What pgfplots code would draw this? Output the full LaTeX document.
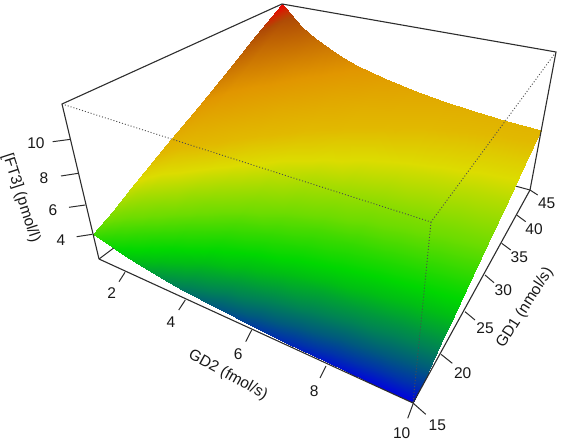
\documentclass[border=0pt]{standalone}
\usepackage{pgfplots}
\usepackage{pgfplotstable}
\usepackage{fontspec}
\setmainfont{Liberation Sans}
\pgfplotsset{compat=1.18}
\definecolor{boxline}{RGB}{45,45,45}

% projected surface: one block per GD2 value, GD1 = 15,17.5,20,22.5,25,30,35,40,45; z = [FT3]
\pgfplotstableread{
x y z
93.0 234.5 4.12
112.5 210.8 4.79
131.2 187.9 5.47
149.1 166.0 6.14
166.3 145.1 6.81
198.7 105.6 8.16
228.5 69.2 9.51
256.3 35.3 10.85
282.0 4.0 12.20
100.4 239.2 3.95
119.7 215.2 4.60
138.1 192.4 5.24
155.7 170.5 5.89
172.6 149.5 6.53
204.3 110.0 7.83
233.7 73.6 9.12
260.8 39.9 10.41
286.0 8.5 11.70
107.7 244.4 3.80
126.7 220.3 4.42
144.9 197.2 5.04
162.2 175.2 5.66
178.8 154.2 6.28
210.0 114.6 7.53
238.8 78.0 8.77
265.4 44.2 10.01
290.0 13.0 11.25
122.4 254.1 3.55
141.3 230.2 4.13
159.3 207.5 4.71
176.5 185.7 5.29
192.9 165.0 5.87
223.6 126.2 7.03
252.0 90.3 8.18
278.1 57.3 9.34
302.2 26.9 10.50
137.6 263.6 3.33
156.4 239.7 3.87
174.2 217.1 4.42
191.3 195.5 4.96
207.7 174.8 5.50
238.1 136.2 6.59
266.0 100.8 7.68
291.8 68.1 8.76
315.4 38.1 9.85
152.8 272.7 3.15
171.5 248.8 3.66
189.4 226.0 4.18
206.3 204.4 4.69
222.5 183.8 5.20
252.5 145.3 6.23
280.2 110.1 7.25
305.3 78.0 8.28
328.7 48.1 9.30
168.3 281.7 3.00
186.9 257.7 3.49
204.6 234.7 3.98
221.3 213.2 4.46
237.3 192.5 4.95
267.2 153.8 5.93
294.3 118.8 6.90
319.2 86.7 7.88
342.1 57.0 8.85
184.2 290.6 2.87
202.7 266.3 3.34
220.2 243.2 3.80
236.8 221.4 4.27
252.6 200.6 4.73
282.0 162.1 5.66
308.7 126.9 6.59
333.2 94.6 7.52
355.7 65.1 8.45
217.0 308.0 2.68
235.1 283.0 3.12
252.3 259.3 3.55
268.5 237.1 3.99
283.8 216.0 4.42
312.5 176.5 5.29
338.3 140.9 6.16
361.9 108.3 7.03
383.6 78.5 7.90
251.5 325.5 2.55
269.2 299.7 2.96
285.8 275.4 3.38
301.6 252.2 3.79
316.5 230.4 4.20
344.2 190.0 5.03
369.2 153.5 5.85
391.7 120.6 6.68
412.5 90.2 7.50
288.3 343.6 2.45
305.4 316.7 2.85
321.5 291.4 3.24
336.7 267.6 3.64
351.0 245.1 4.03
377.6 203.4 4.83
401.5 165.8 5.62
423.0 132.0 6.41
442.8 101.0 7.20
327.1 362.4 2.38
343.5 334.3 2.77
359.0 307.8 3.15
373.5 283.1 3.54
387.2 259.8 3.92
412.5 216.6 4.69
435.3 177.6 5.46
455.6 142.9 6.23
474.3 111.0 7.00
368.8 382.3 2.33
384.4 352.8 2.71
399.0 325.3 3.08
412.8 299.2 3.46
425.7 274.8 3.84
449.5 229.8 4.59
470.7 189.8 5.34
490.0 153.4 6.10
507.3 120.7 6.85
413.0 403.0 2.30
427.5 372.0 2.67
441.2 342.9 3.04
453.9 315.8 3.41
465.9 290.3 3.78
487.9 243.3 4.53
507.5 201.5 5.27
525.1 163.9 6.01
541.0 130.0 6.75
}\surfdata

\begin{document}
\begin{tikzpicture}
\begin{axis}[
    scale only axis,
    width=561pt,
    height=443pt,
    xmin=0, xmax=561,
    ymin=0, ymax=443,
    y dir=reverse,
    hide axis,
    clip=false,
    colormap={ft3}{
        rgb255(230)=(0,0,225)
        rgb255(250)=(0,50,170)
        rgb255(270)=(0,90,125)
        rgb255(295)=(0,130,85)
        rgb255(340)=(0,190,20)
        rgb255(365)=(0,215,0)
        rgb255(450)=(110,220,0)
        rgb255(570)=(220,220,0)
        rgb255(650)=(225,185,0)
        rgb255(830)=(225,150,0)
        rgb255(1100)=(175,75,5)
        rgb255(1220)=(240,0,0)
    },
    point meta min=2.3,
    point meta max=12.2,
]
\path[use as bounding box] (axis cs:0,0) rectangle (axis cs:561,443);

% box edges behind the surface
\addplot[boxline, line width=1pt] coordinates {(99,259) (281,122.5)};
\addplot[boxline, line width=1pt] coordinates {(530,190) (281,122.5)};

\addplot[surf, shader=interp, mesh/rows=14, mesh/cols=9,
    point meta=\thisrow{z}] table[x=x, y=y] {\surfdata};

% front/top box edges
\addplot[boxline, line width=1.1pt] coordinates {(99,259) (62,104) (282,4) (556,52) (530,190) (413,403) (99,259)};
\addplot[black!70, line width=0.9pt, dash pattern=on 1pt off 2pt] coordinates {(62,104) (431,222) (556,52)};
\addplot[black!70, line width=0.9pt, dash pattern=on 1pt off 2pt] coordinates {(431,222) (413,403)};

% ticks [FT3]
\addplot[boxline, line width=1pt] coordinates {(70.7,139.3) (52.7,141.7)};
\addplot[boxline, line width=1pt] coordinates {(78.3,173.3) (61,176)};
\addplot[boxline, line width=1pt] coordinates {(85.3,205) (69,207.3)};
\addplot[boxline, line width=1pt] coordinates {(92.3,234.3) (76.7,236.7)};
% ticks GD2
\addplot[boxline, line width=1pt] coordinates {(125,272.3) (119,281.7)};
\addplot[boxline, line width=1pt] coordinates {(185.3,300) (178.7,310)};
\addplot[boxline, line width=1pt] coordinates {(251.7,330) (245.7,341.7)};
\addplot[boxline, line width=1pt] coordinates {(326,366) (320,378)};
\addplot[boxline, line width=1pt] coordinates {(413.3,403.3) (407.7,418.3)};
% ticks GD1
\addplot[boxline, line width=1pt] coordinates {(413.3,403.3) (425.7,414.3)};
\addplot[boxline, line width=1pt] coordinates {(441,354.3) (452.3,363.3)};
\addplot[boxline, line width=1pt] coordinates {(465,311.7) (475,320)};
\addplot[boxline, line width=1pt] coordinates {(485,275) (494,282.7)};
\addplot[boxline, line width=1pt] coordinates {(501.7,243.3) (510.7,250)};
\addplot[boxline, line width=1pt] coordinates {(516.7,215) (525.7,221.7)};
\addplot[boxline, line width=1pt] coordinates {(530,190) (537.7,195)};

\tikzset{every node/.append style={font=\fontsize{15.5}{18}\selectfont, text=black!90, inner sep=0pt}}
\node at (axis cs:36,143) {10};
\node at (axis cs:44,178) {8};
\node at (axis cs:53,210) {6};
\node at (axis cs:61,240) {4};
\node at (axis cs:111.7,292.7) {2};
\node at (axis cs:171,321.7) {4};
\node at (axis cs:238.3,354.3) {6};
\node at (axis cs:314.3,391) {8};
\node at (axis cs:401.7,433.3) {10};
\node at (axis cs:437.3,425) {15};
\node at (axis cs:462.7,372.7) {20};
\node at (axis cs:485,328.3) {25};
\node at (axis cs:503.3,290) {30};
\node at (axis cs:519.3,257.3) {35};
\node at (axis cs:534,229) {40};
\node at (axis cs:546.7,203.3) {45};
\node[rotate=-29] at (axis cs:228,375) {GD2 (fmol/s)};
\node[rotate=57.4] at (axis cs:525,308) {GD1 (nmol/s)};
\node[rotate=-72] at (axis cs:21,198) {[FT3] (pmol/l)};
\end{axis}
\end{tikzpicture}
\end{document}
